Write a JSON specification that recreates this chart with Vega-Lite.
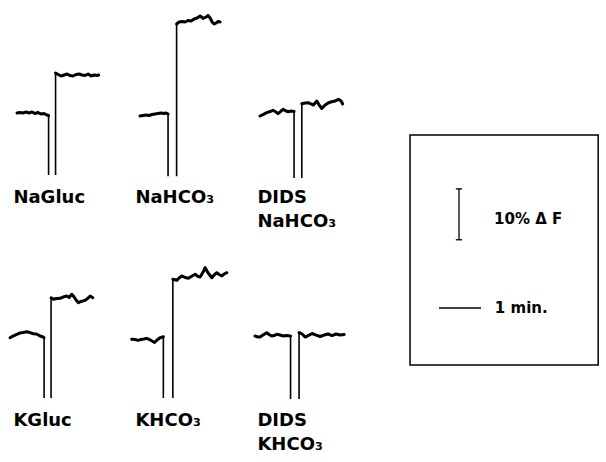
{
  "$schema": "https://vega.github.io/schema/vega-lite/v6.json",
  "padding": {"left": 5, "top": 0, "right": 0, "bottom": 0},
  "autosize": {"type": "pad"},
  "background": "white",
  "spacing": 5,
  "config": {"view": {"stroke": null}, "font": "DejaVu Sans",
    "header": {"labels": false, "title": null, "labelPadding": 0, "titlePadding": 0, "labelColor": "white", "labelFontSize": 0.01, "labelExpr": "''"},
    "headerFacet": {"labels": false, "title": null, "labelPadding": 0, "titlePadding": 0, "labelColor": "white", "labelFontSize": 0.01, "labelExpr": "''"}},
  "resolve": {"scale": {"x": "independent", "y": "independent"}},
  "hconcat": [
    {
      "data": {"values": [
        {"p":"NaGluc","s":"a","t":0.286,"f":0.2},{"p":"NaGluc","s":"a","t":0.357,"f":0.29},{"p":"NaGluc","s":"a","t":0.429,"f":0.2},{"p":"NaGluc","s":"a","t":0.5,"f":0.39},{"p":"NaGluc","s":"a","t":0.571,"f":0.2},{"p":"NaGluc","s":"a","t":0.643,"f":0.39},{"p":"NaGluc","s":"a","t":0.714,"f":0.1},{"p":"NaGluc","s":"a","t":0.786,"f":0.29},{"p":"NaGluc","s":"a","t":0.857,"f":0},{"p":"NaGluc","s":"a","t":0.929,"f":0.1},{"p":"NaGluc","s":"a","t":1.0,"f":-0.2},{"p":"NaGluc","s":"a","t":1.036,"f":-0.29},{"p":"NaGluc","s":"a","t":1.036,"f":-12.0,"e":1},
        {"p":"NaGluc","s":"b","t":1.202,"f":-12.0,"e":1},{"p":"NaGluc","s":"b","t":1.202,"f":8.06},{"p":"NaGluc","s":"b","t":1.262,"f":7.76},{"p":"NaGluc","s":"b","t":1.333,"f":7.47},{"p":"NaGluc","s":"b","t":1.405,"f":7.66},{"p":"NaGluc","s":"b","t":1.476,"f":7.86},{"p":"NaGluc","s":"b","t":1.548,"f":7.56},{"p":"NaGluc","s":"b","t":1.619,"f":7.47},{"p":"NaGluc","s":"b","t":1.69,"f":7.76},{"p":"NaGluc","s":"b","t":1.762,"f":7.86},{"p":"NaGluc","s":"b","t":1.833,"f":7.66},{"p":"NaGluc","s":"b","t":1.905,"f":7.56},{"p":"NaGluc","s":"b","t":1.976,"f":7.86},{"p":"NaGluc","s":"b","t":2.048,"f":7.47},{"p":"NaGluc","s":"b","t":2.119,"f":7.66},{"p":"NaGluc","s":"b","t":2.19,"f":7.56},{"p":"NaGluc","s":"b","t":2.226,"f":7.66},

        {"p":"NaHCO3","s":"a","t":0.31,"f":-0.39},{"p":"NaHCO3","s":"a","t":0.381,"f":-0.29},{"p":"NaHCO3","s":"a","t":0.452,"f":-0.2},{"p":"NaHCO3","s":"a","t":0.524,"f":-0.29},{"p":"NaHCO3","s":"a","t":0.595,"f":-0.1},{"p":"NaHCO3","s":"a","t":0.667,"f":0},{"p":"NaHCO3","s":"a","t":0.738,"f":0.1},{"p":"NaHCO3","s":"a","t":0.81,"f":0.2},{"p":"NaHCO3","s":"a","t":0.881,"f":0.1},{"p":"NaHCO3","s":"a","t":0.929,"f":0.2},{"p":"NaHCO3","s":"a","t":0.976,"f":0},{"p":"NaHCO3","s":"a","t":0.976,"f":-12.2,"e":1},
        {"p":"NaHCO3","s":"b","t":1.179,"f":-12.2,"e":1},{"p":"NaHCO3","s":"b","t":1.179,"f":17.69},{"p":"NaHCO3","s":"b","t":1.238,"f":18.08},{"p":"NaHCO3","s":"b","t":1.31,"f":18.18},{"p":"NaHCO3","s":"b","t":1.381,"f":18.08},{"p":"NaHCO3","s":"b","t":1.452,"f":18.37},{"p":"NaHCO3","s":"b","t":1.524,"f":18.27},{"p":"NaHCO3","s":"b","t":1.595,"f":18.67},{"p":"NaHCO3","s":"b","t":1.667,"f":18.86},{"p":"NaHCO3","s":"b","t":1.738,"f":19.26},{"p":"NaHCO3","s":"b","t":1.81,"f":18.77},{"p":"NaHCO3","s":"b","t":1.881,"f":19.06},{"p":"NaHCO3","s":"b","t":1.929,"f":19.36},{"p":"NaHCO3","s":"b","t":1.976,"f":18.86},{"p":"NaHCO3","s":"b","t":2.024,"f":18.08},{"p":"NaHCO3","s":"b","t":2.071,"f":17.69},{"p":"NaHCO3","s":"b","t":2.119,"f":17.88},{"p":"NaHCO3","s":"b","t":2.167,"f":18.18},{"p":"NaHCO3","s":"b","t":2.214,"f":18.08},

        {"p":"DIDS NaHCO3","s":"a","t":0.262,"f":-0.39},{"p":"DIDS NaHCO3","s":"a","t":0.333,"f":-0.1},{"p":"DIDS NaHCO3","s":"a","t":0.421,"f":0.26},{"p":"DIDS NaHCO3","s":"a","t":0.5,"f":0.49},{"p":"DIDS NaHCO3","s":"a","t":0.571,"f":0.73},{"p":"DIDS NaHCO3","s":"a","t":0.643,"f":0.39},{"p":"DIDS NaHCO3","s":"a","t":0.69,"f":0.06},{"p":"DIDS NaHCO3","s":"a","t":0.762,"f":0.59},{"p":"DIDS NaHCO3","s":"a","t":0.81,"f":0.92},{"p":"DIDS NaHCO3","s":"a","t":0.881,"f":0.59},{"p":"DIDS NaHCO3","s":"a","t":0.929,"f":0.45},{"p":"DIDS NaHCO3","s":"a","t":1.0,"f":0.59},{"p":"DIDS NaHCO3","s":"a","t":1.071,"f":0.49},{"p":"DIDS NaHCO3","s":"a","t":1.071,"f":-12.58,"e":1},
        {"p":"DIDS NaHCO3","s":"b","t":1.255,"f":-12.58,"e":1},{"p":"DIDS NaHCO3","s":"b","t":1.255,"f":2.02},{"p":"DIDS NaHCO3","s":"b","t":1.333,"f":2.16},{"p":"DIDS NaHCO3","s":"b","t":1.412,"f":2.22},{"p":"DIDS NaHCO3","s":"b","t":1.476,"f":1.97},{"p":"DIDS NaHCO3","s":"b","t":1.531,"f":1.77},{"p":"DIDS NaHCO3","s":"b","t":1.612,"f":2.55},{"p":"DIDS NaHCO3","s":"b","t":1.667,"f":1.77},{"p":"DIDS NaHCO3","s":"b","t":1.731,"f":1.08},{"p":"DIDS NaHCO3","s":"b","t":1.81,"f":1.77},{"p":"DIDS NaHCO3","s":"b","t":1.881,"f":2.16},{"p":"DIDS NaHCO3","s":"b","t":1.969,"f":2.42},{"p":"DIDS NaHCO3","s":"b","t":2.048,"f":2.55},{"p":"DIDS NaHCO3","s":"b","t":2.126,"f":2.89},{"p":"DIDS NaHCO3","s":"b","t":2.19,"f":2.55},{"p":"DIDS NaHCO3","s":"b","t":2.226,"f":1.97},

        {"p":"KGluc","s":"a","t":0.119,"f":-0.14},{"p":"KGluc","s":"a","t":0.19,"f":0.2},{"p":"KGluc","s":"a","t":0.279,"f":0.53},{"p":"KGluc","s":"a","t":0.357,"f":0.79},{"p":"KGluc","s":"a","t":0.429,"f":0.88},{"p":"KGluc","s":"a","t":0.517,"f":1.04},{"p":"KGluc","s":"a","t":0.595,"f":0.88},{"p":"KGluc","s":"a","t":0.674,"f":0.65},{"p":"KGluc","s":"a","t":0.75,"f":0.59},{"p":"KGluc","s":"a","t":0.833,"f":0.2},{"p":"KGluc","s":"a","t":0.905,"f":0},{"p":"KGluc","s":"a","t":0.929,"f":-0.14},{"p":"KGluc","s":"a","t":0.929,"f":-11.99,"e":1},
        {"p":"KGluc","s":"b","t":1.095,"f":-11.99,"e":1},{"p":"KGluc","s":"b","t":1.095,"f":7.72},{"p":"KGluc","s":"b","t":1.15,"f":7.41},{"p":"KGluc","s":"b","t":1.226,"f":7.57},{"p":"KGluc","s":"b","t":1.31,"f":7.6},{"p":"KGluc","s":"b","t":1.381,"f":7.86},{"p":"KGluc","s":"b","t":1.469,"f":8.06},{"p":"KGluc","s":"b","t":1.524,"f":7.76},{"p":"KGluc","s":"b","t":1.588,"f":8.39},{"p":"KGluc","s":"b","t":1.643,"f":7.86},{"p":"KGluc","s":"b","t":1.69,"f":7.27},{"p":"KGluc","s":"b","t":1.745,"f":6.74},{"p":"KGluc","s":"b","t":1.81,"f":6.98},{"p":"KGluc","s":"b","t":1.905,"f":7.21},{"p":"KGluc","s":"b","t":1.976,"f":7.66},{"p":"KGluc","s":"b","t":2.024,"f":8.06},{"p":"KGluc","s":"b","t":2.088,"f":7.72},

        {"p":"KHCO3","s":"a","t":0.112,"f":-0.45},{"p":"KHCO3","s":"a","t":0.19,"f":-0.49},{"p":"KHCO3","s":"a","t":0.262,"f":-0.65},{"p":"KHCO3","s":"a","t":0.333,"f":-0.49},{"p":"KHCO3","s":"a","t":0.405,"f":-0.39},{"p":"KHCO3","s":"a","t":0.469,"f":-0.26},{"p":"KHCO3","s":"a","t":0.536,"f":-0.49},{"p":"KHCO3","s":"a","t":0.595,"f":-0.79},{"p":"KHCO3","s":"a","t":0.655,"f":-1.08},{"p":"KHCO3","s":"a","t":0.714,"f":-0.59},{"p":"KHCO3","s":"a","t":0.786,"f":-0.14},{"p":"KHCO3","s":"a","t":0.864,"f":0.06},{"p":"KHCO3","s":"a","t":0.864,"f":-11.99,"e":1},
        {"p":"KHCO3","s":"b","t":1.09,"f":-11.99,"e":1},{"p":"KHCO3","s":"b","t":1.09,"f":11.34},{"p":"KHCO3","s":"b","t":1.183,"f":11.14},{"p":"KHCO3","s":"b","t":1.238,"f":11.59},{"p":"KHCO3","s":"b","t":1.302,"f":11.99},{"p":"KHCO3","s":"b","t":1.381,"f":11.69},{"p":"KHCO3","s":"b","t":1.459,"f":11.53},{"p":"KHCO3","s":"b","t":1.548,"f":11.99},{"p":"KHCO3","s":"b","t":1.619,"f":12.32},{"p":"KHCO3","s":"b","t":1.69,"f":11.89},{"p":"KHCO3","s":"b","t":1.738,"f":11.79},{"p":"KHCO3","s":"b","t":1.81,"f":12.77},{"p":"KHCO3","s":"b","t":1.857,"f":13.62},{"p":"KHCO3","s":"b","t":1.929,"f":12.58},{"p":"KHCO3","s":"b","t":2.017,"f":11.65},{"p":"KHCO3","s":"b","t":2.071,"f":12.18},{"p":"KHCO3","s":"b","t":2.136,"f":12.63},{"p":"KHCO3","s":"b","t":2.19,"f":12.28},{"p":"KHCO3","s":"b","t":2.255,"f":11.99},{"p":"KHCO3","s":"b","t":2.31,"f":12.38},{"p":"KHCO3","s":"b","t":2.374,"f":12.63},

        {"p":"DIDS KHCO3","s":"a","t":0.143,"f":0.2},{"p":"DIDS KHCO3","s":"a","t":0.214,"f":0},{"p":"DIDS KHCO3","s":"a","t":0.262,"f":0},{"p":"DIDS KHCO3","s":"a","t":0.333,"f":0.39},{"p":"DIDS KHCO3","s":"a","t":0.421,"f":0.84},{"p":"DIDS KHCO3","s":"a","t":0.476,"f":0.49},{"p":"DIDS KHCO3","s":"a","t":0.54,"f":0.2},{"p":"DIDS KHCO3","s":"a","t":0.595,"f":0.29},{"p":"DIDS KHCO3","s":"a","t":0.66,"f":0.53},{"p":"DIDS KHCO3","s":"a","t":0.738,"f":0.39},{"p":"DIDS KHCO3","s":"a","t":0.817,"f":0.2},{"p":"DIDS KHCO3","s":"a","t":0.893,"f":0.29},{"p":"DIDS KHCO3","s":"a","t":0.988,"f":0.2},{"p":"DIDS KHCO3","s":"a","t":0.988,"f":-12.18,"e":1},
        {"p":"DIDS KHCO3","s":"b","t":1.19,"f":-12.18,"e":1},{"p":"DIDS KHCO3","s":"b","t":1.19,"f":0.88},{"p":"DIDS KHCO3","s":"b","t":1.262,"f":0.59},{"p":"DIDS KHCO3","s":"b","t":1.333,"f":0},{"p":"DIDS KHCO3","s":"b","t":1.405,"f":0.29},{"p":"DIDS KHCO3","s":"b","t":1.5,"f":0.69},{"p":"DIDS KHCO3","s":"b","t":1.595,"f":0.39},{"p":"DIDS KHCO3","s":"b","t":1.69,"f":0.1},{"p":"DIDS KHCO3","s":"b","t":1.786,"f":0.39},{"p":"DIDS KHCO3","s":"b","t":1.881,"f":0.59},{"p":"DIDS KHCO3","s":"b","t":1.976,"f":0.29},{"p":"DIDS KHCO3","s":"b","t":2.071,"f":0.59},{"p":"DIDS KHCO3","s":"b","t":2.167,"f":0.39},{"p":"DIDS KHCO3","s":"b","t":2.262,"f":0.49},

        {"p":"NaGluc","lab":"NaGluc"},
        {"p":"NaHCO3","lab":"NaHCO₃"},
        {"p":"DIDS NaHCO3","lab":"DIDS\nNaHCO₃"},
        {"p":"KGluc","lab":"KGluc"},
        {"p":"KHCO3","lab":"KHCO₃"},
        {"p":"DIDS KHCO3","lab":"DIDS\nKHCO₃"}
      ]},
      "facet": {"field": "p", "type": "nominal", "title": null,
        "header": {"labels": false, "title": null, "labelPadding": 0, "titlePadding": 0, "labelColor": "white", "labelFontSize": 0.01, "labelExpr": "''"},
        "sort": ["NaGluc", "NaHCO3", "DIDS NaHCO3", "KGluc", "KHCO3", "DIDS KHCO3"]},
      "columns": 3,
      "spacing": 0,
      "bounds": "flush",
      "spec": {
        "width": 122,
        "height": 223,
        "layer": [
          {
            "transform": [{"filter": "isValid(datum.t)"}],
            "mark": {"type": "line", "color": "black", "strokeWidth": 1.6, "strokeJoin": "round"},
            "encoding": {
              "x": {"field": "t", "type": "quantitative", "scale": {"domain": [0, 2.9], "nice": false, "zero": false}, "axis": null},
              "y": {"field": "f", "type": "quantitative", "scale": {"domain": [-21.6, 22.2], "nice": false, "zero": false}, "axis": null},
              "detail": {"field": "s"},
              "order": {"value": null}
            }
          },
          {
            "transform": [{"filter": "isValid(datum.t) && !datum.e"}],
            "mark": {"type": "line", "color": "black", "strokeWidth": 3, "strokeJoin": "round", "strokeCap": "round"},
            "encoding": {
              "x": {"field": "t", "type": "quantitative"},
              "y": {"field": "f", "type": "quantitative"},
              "detail": {"field": "s"},
              "order": {"value": null}
            }
          },
          {
            "transform": [{"filter": "datum.lab"}],
            "mark": {"type": "text", "align": "left", "baseline": "alphabetic", "fontWeight": "bold", "fontSize": 18, "font": "DejaVu Sans", "lineBreak": "\n", "lineHeight": 24, "color": "black"},
            "encoding": {
              "x": {"datum": 0.2},
              "y": {"datum": -17.4},
              "text": {"field": "lab"}
            }
          }
        ]
      }
    },
    {
      "data": {"values": [{"bar": "scale"}]},
      "width": 230,
      "height": 446,
      "encoding": {
        "x": {"type": "quantitative", "scale": {"domain": [0, 5.476], "nice": false, "zero": false}, "axis": null},
        "y": {"type": "quantitative", "scale": {"domain": [0, 87.6], "nice": false, "zero": false}, "axis": null}
      },
      "layer": [
        {
          "mark": {"type": "rect", "fill": null, "fillOpacity": 0, "stroke": "black", "strokeWidth": 1.5},
          "encoding": {"x": {"datum": 0.81}, "x2": {"datum": 5.29}, "y": {"datum": 61.3}, "y2": {"datum": 16.1}}
        },
        {
          "mark": {"type": "rule", "color": "black", "strokeWidth": 1.3},
          "encoding": {"x": {"datum": 1.976}, "y": {"datum": 40.7}, "y2": {"datum": 50.7}}
        },
        {
          "mark": {"type": "rule", "color": "black", "strokeWidth": 1.3},
          "encoding": {"x": {"datum": 1.9}, "x2": {"datum": 2.05}, "y": {"datum": 40.7}}
        },
        {
          "mark": {"type": "rule", "color": "black", "strokeWidth": 1.3},
          "encoding": {"x": {"datum": 1.9}, "x2": {"datum": 2.05}, "y": {"datum": 50.7}}
        },
        {
          "mark": {"type": "rule", "color": "black", "strokeWidth": 1.5},
          "encoding": {"x": {"datum": 1.5}, "x2": {"datum": 2.5}, "y": {"datum": 27.3}}
        },
        {
          "mark": {"type": "text", "align": "left", "baseline": "middle", "fontWeight": "bold", "fontSize": 15, "font": "DejaVu Sans", "color": "black", "text": "10% Δ F"},
          "encoding": {"x": {"datum": 2.81}, "y": {"datum": 44.8}}
        },
        {
          "mark": {"type": "text", "align": "left", "baseline": "middle", "fontWeight": "bold", "fontSize": 15, "font": "DejaVu Sans", "color": "black", "text": "1 min."},
          "encoding": {"x": {"datum": 2.83}, "y": {"datum": 27.3}}
        }
      ]
    }
  ]
}
